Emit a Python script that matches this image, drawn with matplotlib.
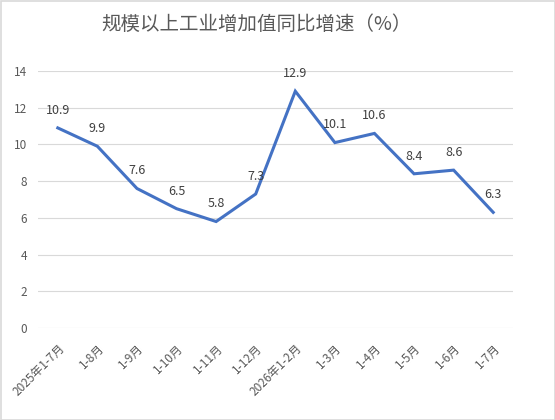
import matplotlib
matplotlib.use("Agg")
import matplotlib.pyplot as plt
from matplotlib.patches import Rectangle

plt.rcParams['font.family'] = ['Noto Sans CJK SC', 'DejaVu Sans']

categories = ["2025年1-7月", "1-8月", "1-9月", "1-10月", "1-11月", "1-12月",
              "2026年1-2月", "1-3月", "1-4月", "1-5月", "1-6月", "1-7月"]
values = [10.9, 9.9, 7.6, 6.5, 5.8, 7.3, 12.9, 10.1, 10.6, 8.4, 8.6, 6.3]
yticks = [0, 2, 4, 6, 8, 10, 12, 14]

fig = plt.figure(figsize=(5.55, 4.2), dpi=100)
ax = fig.add_axes([38/555, 92/420, 475/555, 257/420])

x = list(range(len(categories)))
ax.plot(x, values, color='#4472C4', linewidth=2.2, solid_joinstyle='miter', zorder=3)
for xi, v in zip(x, values):
    ax.annotate(f"{v}", (xi, v), xytext=(0, 8), textcoords='offset points',
                ha='center', va='bottom', fontsize=9, color='#404040')

ax.set_xlim(-0.5, len(categories) - 0.5)
ax.set_ylim(0, 14)
ax.set_yticks(yticks)
ax.set_yticklabels([str(t) for t in yticks], fontsize=8.5, color='#595959')
ax.set_xticks(x)
ax.set_xticklabels(categories, rotation=45, ha='right', rotation_mode='anchor',
                   fontsize=8.5, color='#595959')
ax.tick_params(axis='both', length=0)
ax.tick_params(axis='y', pad=8)
ax.tick_params(axis='x', pad=10)
ax.grid(axis='y', color='#D9D9D9', linewidth=0.8)
ax.set_axisbelow(True)
for s in ax.spines.values():
    s.set_visible(False)

fig.text(256/555, 1 - 24/420, "规模以上工业增加值同比增速（%）", ha='center', va='center',
         fontsize=14, color='#595959')
fig.patches.append(Rectangle((0.5/555, 0.5/420), 1 - 1/555, 1 - 1/420, transform=fig.transFigure,
                             fill=False, edgecolor='#D9D9D9', linewidth=1.2))

fig.savefig("out.png", dpi=100)
